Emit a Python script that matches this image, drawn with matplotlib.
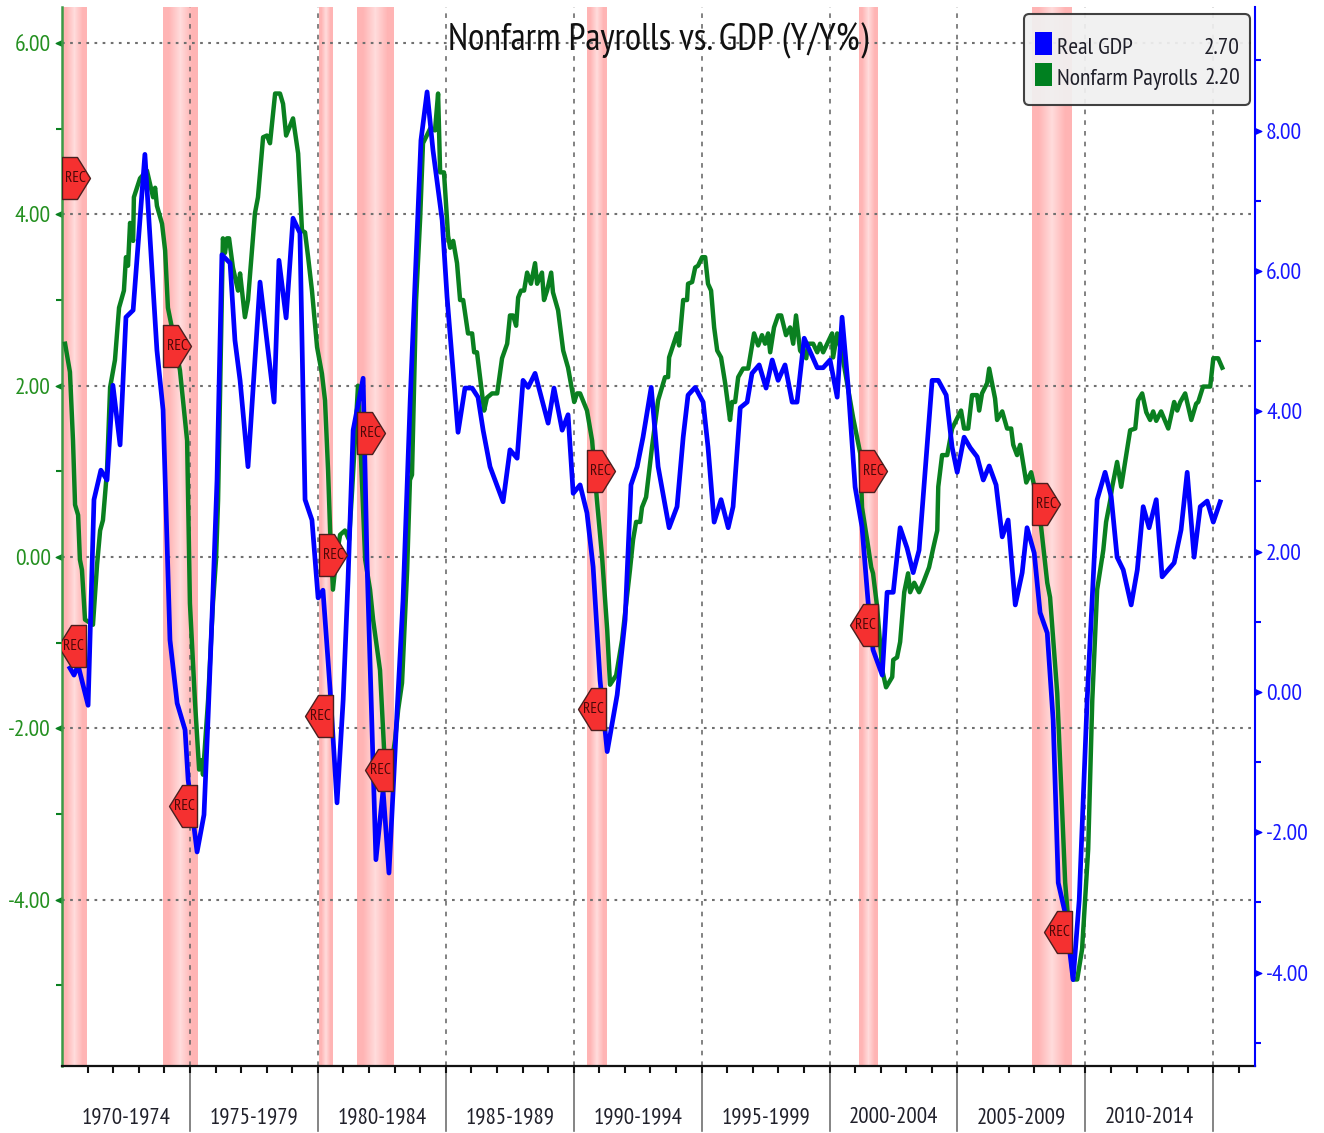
import numpy as np
import matplotlib
matplotlib.use('Agg')
import matplotlib.pyplot as plt
from matplotlib.colors import LinearSegmentedColormap
from matplotlib.patches import FancyBboxPatch, Rectangle
from matplotlib.path import Path
import matplotlib.font_manager as fm

# narrow face if there is one, the chart uses a squeezed sans
have = {f.name for f in fm.fontManager.ttflist}
narrow = [n for n in ['PT Sans Narrow', 'Archivo Narrow', 'Roboto Condensed', 'Liberation Sans Narrow'] if n in have]
plt.rcParams['font.family'] = narrow[:1] + ['Liberation Sans', 'DejaVu Sans']

gdp_t = [1970.31,1970.47,1970.63,1971.02,1971.25,1971.52,1971.76,1971.99,1972.27,1972.50,1972.78,1973.24,1973.71,1973.95,
    1974.22,1974.50,1974.81,1974.93,1975.28,1975.55,1975.71,1975.90,1976.06,1976.25,1976.57,1976.76,1976.96,1977.27,1977.74,
    1978.29,1978.48,1978.76,1979.03,1979.30,1979.50,1979.77,1980.01,1980.20,1980.48,1980.75,1980.99,1981.18,1981.38,1981.77,
    1981.92,1982.27,1982.55,1982.78,1983.10,1983.33,1983.61,1984.03,1984.27,1984.50,1984.86,1985.05,1985.48,1985.75,1986.03,
    1986.26,1986.46,1986.73,1987.24,1987.51,1987.79,1988.02,1988.22,1988.49,1989.00,1989.23,1989.55,1989.78,1989.98,1990.25,
    1990.52,1990.76,1991.03,1991.31,1991.70,1992.01,1992.24,1992.48,1992.71,1993.03,1993.30,1993.73,1994.04,1994.28,1994.47,
    1994.75,1995.06,1995.25,1995.49,1995.76,1996.04,1996.23,1996.51,1996.78,1996.97,1997.25,1997.52,1997.76,1997.99,1998.26,
    1998.54,1998.73,1999.01,1999.52,1999.75,2000.02,2000.30,2000.49,2000.73,2001.00,2001.27,2001.51,2001.70,2002.06,2002.25,
    2002.49,2002.76,2003.03,2003.27,2003.50,2004.01,2004.25,2004.56,2004.79,2004.99,2005.26,2005.50,2005.77,2006.01,2006.24,
    2006.51,2006.75,2006.98,2007.26,2007.53,2007.72,2008.00,2008.23,2008.51,2008.74,2008.94,2009.21,2009.52,2009.76,2010.07,
    2010.46,2010.77,2011.01,2011.24,2011.48,2011.79,2012.03,2012.26,2012.49,2012.77,2013.00,2013.47,2013.74,2013.98,2014.25,
    2014.49,2014.76,2015.00,2015.27]
gdp = [0.34,0.24,0.38,-0.19,2.74,3.16,3.02,4.37,3.52,5.34,5.44,7.66,4.87,4.02,
    0.74,-0.16,-0.54,-1.25,-2.28,-1.75,-0.36,1.41,3.02,6.23,6.11,5.01,4.44,3.21,5.84,
    4.13,6.15,5.33,6.75,6.54,2.74,2.45,1.34,1.45,0.03,-1.58,-0.11,1.60,3.73,4.47,
    1.88,-2.39,-1.40,-2.58,-0.26,1.31,4.16,7.86,8.55,7.72,6.72,5.63,3.70,4.33,4.33,
    4.20,3.73,3.21,2.71,3.45,3.33,4.44,4.34,4.54,3.83,4.33,3.73,3.95,2.83,2.95,
    2.55,1.78,0.17,-0.85,-0.04,1.03,2.95,3.21,3.63,4.34,3.21,2.34,2.64,3.63,4.23,
    4.34,4.13,3.49,2.42,2.74,2.34,2.64,4.05,4.13,4.54,4.66,4.33,4.73,4.44,4.66,
    4.13,4.13,5.04,4.62,4.62,4.73,4.20,5.34,4.34,2.92,2.35,1.27,0.60,0.24,1.42,
    1.42,2.34,2.05,1.70,2.02,4.44,4.44,4.23,3.49,3.13,3.63,3.48,3.35,3.02,3.22,
    2.95,2.21,2.45,1.24,1.70,2.34,1.98,1.13,0.84,-0.40,-2.72,-3.15,-4.10,-2.96,-0.11,
    2.74,3.13,2.78,1.92,1.74,1.24,1.74,2.64,2.34,2.74,1.64,1.84,2.31,3.13,1.92,
    2.64,2.72,2.42,2.71]

pay_t = [1970.12,1970.31,1970.43,1970.51,1970.63,1970.70,1970.78,1970.90,1971.21,1971.37,1971.49,1971.60,1971.76,1971.88,
    1972.07,1972.23,1972.42,1972.50,1972.58,1972.66,1972.78,1972.81,1973.05,1973.32,1973.56,1973.64,1973.71,1973.91,1974.03,
    1974.14,1974.34,1974.61,1974.73,1974.89,1975.00,1975.20,1975.36,1975.47,1975.51,1975.71,1975.90,1976.02,1976.10,1976.29,
    1976.37,1976.45,1976.53,1976.68,1976.88,1976.96,1977.15,1977.27,1977.54,1977.66,1977.86,1978.01,1978.13,1978.33,1978.52,
    1978.64,1978.76,1979.03,1979.23,1979.38,1979.50,1979.62,1979.77,1979.97,1980.16,1980.28,1980.40,1980.48,1980.59,1980.71,
    1980.87,1981.06,1981.22,1981.34,1981.57,1981.85,1982.04,1982.16,1982.43,1982.59,1982.82,1983.02,1983.14,1983.29,1983.49,
    1983.60,1983.68,1983.84,1984.00,1984.11,1984.39,1984.58,1984.70,1984.78,1984.93,1985.09,1985.17,1985.29,1985.44,1985.56,
    1985.68,1985.87,1986.03,1986.11,1986.22,1986.50,1986.61,1986.81,1987.01,1987.20,1987.40,1987.51,1987.63,1987.75,1987.83,
    1987.94,1988.06,1988.18,1988.33,1988.49,1988.57,1988.76,1988.84,1988.96,1989.12,1989.19,1989.39,1989.59,1989.78,1990.02,
    1990.13,1990.25,1990.52,1990.72,1990.91,1991.11,1991.31,1991.42,1991.66,1991.89,1992.20,1992.32,1992.44,1992.60,1992.67,
    1992.83,1993.06,1993.30,1993.57,1993.69,1993.73,1994.04,1994.12,1994.28,1994.43,1994.47,1994.63,1994.75,1994.86,1995.02,
    1995.14,1995.25,1995.37,1995.49,1995.61,1995.76,1995.92,1996.11,1996.19,1996.31,1996.43,1996.62,1996.82,1997.05,1997.21,
    1997.36,1997.48,1997.60,1997.68,1997.83,1997.99,1998.11,1998.30,1998.46,1998.58,1998.69,1998.85,1999.09,1999.16,1999.36,
    1999.52,1999.63,1999.75,1999.91,2000.10,2000.14,2000.30,2000.53,2000.92,2001.20,2001.27,2001.47,2001.63,2001.70,2001.86,
    2002.06,2002.21,2002.45,2002.49,2002.64,2002.76,2002.92,2003.07,2003.15,2003.31,2003.50,2003.66,2003.89,2004.05,2004.21,
    2004.25,2004.40,2004.60,2004.79,2004.99,2005.14,2005.26,2005.42,2005.57,2005.77,2005.85,2005.96,2006.16,2006.24,2006.47,
    2006.55,2006.75,2006.94,2007.10,2007.18,2007.33,2007.45,2007.69,2007.88,2008.04,2008.27,2008.51,2008.62,2008.90,2009.21,
    2009.52,2009.68,2009.87,2010.11,2010.27,2010.46,2010.70,2010.81,2010.97,2011.05,2011.24,2011.40,2011.75,2011.95,2012.06,
    2012.22,2012.38,2012.53,2012.65,2012.77,2012.96,2013.24,2013.47,2013.59,2013.71,2013.90,2014.14,2014.33,2014.41,2014.60,
    2014.88,2015.00,2015.19,2015.35]
payrolls = [2.49,2.16,1.36,0.61,0.49,-0.03,-0.15,-0.73,-0.79,-0.09,0.31,0.43,1.01,1.98,
    2.30,2.91,3.11,3.50,3.40,3.90,3.69,4.20,4.42,4.51,4.20,4.31,4.10,3.89,3.58,
    2.91,2.61,2.18,1.83,1.36,-0.54,-1.70,-2.48,-2.37,-2.54,-1.67,-0.54,-0.03,0.66,3.72,
    3.55,3.72,3.72,3.38,3.11,3.31,2.80,3.00,4.01,4.20,4.90,4.92,4.83,5.41,5.41,
    5.29,4.92,5.12,4.71,3.81,3.79,3.50,3.11,2.45,2.14,1.83,1.01,0.31,-0.38,-0.03,
    0.26,0.31,0.20,0.78,2.00,-0.03,-0.38,-0.73,-1.32,-2.25,-2.54,-2.13,-1.78,-1.47,-0.15,
    0.90,0.96,3.00,3.96,4.83,5.00,4.98,5.41,4.49,4.49,3.75,3.61,3.69,3.43,3.00,
    3.00,2.61,2.61,2.39,2.39,1.71,1.86,1.91,1.91,2.32,2.49,2.82,2.82,2.70,3.03,
    3.11,3.11,3.32,3.19,3.43,3.19,3.32,3.00,3.11,3.32,3.09,2.88,2.41,2.21,1.81,
    1.91,1.91,1.71,1.36,0.66,0.00,-0.85,-1.49,-1.38,-0.97,-0.15,0.20,0.41,0.41,0.58,
    0.70,1.28,1.83,2.10,2.10,2.33,2.61,2.47,3.00,3.00,3.19,3.21,3.38,3.40,3.50,
    3.50,3.19,3.11,2.68,2.41,2.33,2.03,1.60,1.81,1.81,2.10,2.20,2.20,2.61,2.47,
    2.59,2.49,2.61,2.39,2.68,2.82,2.82,2.59,2.68,2.49,2.82,2.41,2.32,2.49,2.49,
    2.39,2.49,2.39,2.49,2.61,2.33,2.61,2.30,1.63,1.21,0.58,0.20,-0.12,-0.19,-0.58,
    -1.32,-1.52,-1.40,-1.20,-1.17,-0.99,-0.41,-0.19,-0.41,-0.30,-0.41,-0.30,-0.12,0.10,0.31,
    0.82,1.19,1.19,1.50,1.62,1.71,1.50,1.50,1.89,1.89,1.71,1.91,2.03,2.20,1.85,
    1.60,1.70,1.50,1.50,1.31,1.19,1.31,0.87,0.99,0.78,0.35,-0.30,-0.47,-1.59,-3.80,
    -4.93,-4.93,-4.58,-3.41,-1.67,-0.38,0.08,0.41,0.66,0.82,1.11,0.82,1.48,1.50,1.83,
    1.91,1.69,1.60,1.70,1.59,1.70,1.50,1.81,1.71,1.81,1.91,1.60,1.79,1.81,1.99,
    1.99,2.32,2.32,2.21]

rec_start = [1970.0,1973.95,1980.05,1981.53,1990.52,2001.16,2007.92]
rec_end = [1970.94,1975.28,1980.59,1982.94,1991.27,2001.90,2009.48]
rec_start_y = [4.42,2.46,0.02,1.45,1.00,1.01,0.62]
rec_end_y = [-1.04,-2.90,-1.86,-2.49,-1.77,-0.79,-4.38]

left_ticks = [-4,-2,0,2,4,6]
left_labels = ['-4.00','-2.00','0.00','2.00','4.00','6.00']
left_minor = [-5,-3,-1,1,3,5]
right_ticks = [-4,-2,0,2,4,6,8]
right_labels = ['-4.00','-2.00','0.00','2.00','4.00','6.00','8.00']
right_minor = [-5,-3,-1,1,3,5,7,9]
period_starts = [1970,1975,1980,1985,1990,1995,2000,2005,2010]
period_labels = ['1970-1974','1975-1979','1980-1984','1985-1989','1990-1994','1995-1999','2000-2004','2005-2009','2010-2014']
legend_names = ['Real GDP','Nonfarm Payrolls']
legend_values = ['2.70','2.20']

GREEN = '#0a8020'
BLUE = '#0000ff'
W, H = 1324, 1133

fig = plt.figure(figsize=(W/100, H/100), dpi=100, facecolor='white')
ax = fig.add_axes([62/W, 1-1066/H, (1255-62)/W, (1066-7)/H])
ax2 = ax.twinx()
ax.set_zorder(1)
ax2.set_zorder(2)
ax2.patch.set_visible(False)

# recession bands, darker at the edges
cmap = LinearSegmentedColormap.from_list('rec', ['#ffb4b4', '#ffdcdc'])
for a, b in zip(rec_start, rec_end):
    ax.imshow([[0, 1, 0]], extent=(a, b, -6, 7), aspect='auto', cmap=cmap, vmin=0, vmax=1,
              interpolation='bilinear', zorder=0)

ax.plot(pay_t, payrolls, color=GREEN, lw=3.2, zorder=3, solid_joinstyle='round')
ax2.plot(gdp_t, gdp, color=BLUE, lw=3.4, zorder=3, solid_joinstyle='round')

ax.set_xlim(1970, 2016.63)
ax.set_ylim(-5.94, 6.42)
ax2.set_ylim(-5.33, 9.76)

# grid
for v in left_ticks:
    ax.axhline(v, color='#707070', lw=1.5, ls=(0, (1.3, 2.6)), zorder=1)
years = period_starts + [2015]
for v in years[1:]:
    ax.axvline(v, color='#606060', lw=1.1, ls=(0, (3, 4)), zorder=1)
    ax.plot([v, v], [-0.0614, 0], transform=ax.get_xaxis_transform(), clip_on=False,
            color='#707070', lw=1.2, zorder=1)

# x axis
ax.set_xticks(np.arange(1971, 2017))
ax.tick_params(axis='x', length=5, width=1.5, color='#111111', labelbottom=False)
for s, lab in zip(period_starts, period_labels):
    ax.text(s+2.5, -0.0488, lab, transform=ax.get_xaxis_transform(), ha='center', va='center',
            fontsize=16.5, color='#20202a')

# y axes
ax.set_yticks(left_ticks, left_labels)
ax.set_yticks(left_minor, minor=True)
ax.tick_params(axis='y', which='major', length=8, width=1, colors='#249020', labelsize=17, pad=0)
ax.tick_params(axis='y', which='minor', length=4, width=1.5, color=GREEN)
ax2.set_yticks(right_ticks, right_labels)
ax2.set_yticks(right_minor, minor=True)
ax2.tick_params(axis='y', which='major', length=8, width=1, colors='#1818ff', labelsize=17, pad=0)
ax2.tick_params(axis='y', which='minor', length=4, width=1.5, color=BLUE)
ax2.tick_params(axis='x', which='both', length=0)

left_tri = Path([(0, -4), (-9, 0), (0, 4), (0, -4)], closed=True)
right_tri = Path([(0, -4), (9, 0), (0, 4), (0, -4)], closed=True)
for t in ax.yaxis.get_major_ticks():
    t.tick1line.set_marker(left_tri)
    t.tick1line.set_markersize(9)
    t.tick1line.set_markerfacecolor(GREEN)
    t.tick1line.set_markeredgecolor(GREEN)
for t in ax2.yaxis.get_major_ticks():
    t.tick2line.set_marker(right_tri)
    t.tick2line.set_markersize(9)
    t.tick2line.set_markerfacecolor(BLUE)
    t.tick2line.set_markeredgecolor(BLUE)

for a_ in (ax, ax2):
    for side in a_.spines:
        a_.spines[side].set_visible(False)
ax.spines['bottom'].set_visible(True)
ax.spines['bottom'].set_linewidth(1.6)
ax.spines['bottom'].set_color('#111111')
ax.spines['left'].set_visible(True)
ax.spines['left'].set_linewidth(1.8)
ax.spines['left'].set_color('#3c9a46')
ax2.spines['right'].set_visible(True)
ax2.spines['right'].set_linewidth(1.5)
ax2.spines['right'].set_color(BLUE)

# REC flags
rec_r = [(0, -21), (15, -21), (28, 0), (15, 21), (0, 21), (0, -21)]
rec_l = [(0, -21), (-15, -21), (-28, 0), (-15, 21), (0, 21), (0, -21)]
for xs, ys, verts, off in ((rec_start, rec_start_y, rec_r, 10), (rec_end, rec_end_y, rec_l, -9)):
    ax2.plot(xs, ys, ls='none', marker=verts, ms=40.3, mfc='#f53030', mec='#4a2020', mew=1,
             transform=ax.transData, clip_on=True, zorder=5)
    for x, y in zip(xs, ys):
        ax2.annotate('REC', (x, y), xycoords=ax.transData, xytext=(off, 0), textcoords='offset points',
                     ha='center', va='center', fontsize=11, color='#4a0808', zorder=6)

fig.text(658/W, 1-41/H, 'Nonfarm Payrolls vs. GDP (Y/Y%)', ha='center', va='center',
         fontsize=27, color='#111111', zorder=10)

# legend box
box = FancyBboxPatch((1024/W, 1-105/H), 226/W, 91/H, boxstyle='round,pad=0,rounding_size=0.004',
                     transform=fig.transFigure, fc='#f0f0f0', ec='#333333', lw=1.5, alpha=0.93, zorder=8,
                     mutation_aspect=W/H)
fig.add_artist(box)
for i, (name, val, col) in enumerate(zip(legend_names, legend_values, [BLUE, '#008020'])):
    y0 = 32 + i*31
    fig.add_artist(Rectangle((1035/W, 1-(y0+23)/H), 17/W, 23/H, transform=fig.transFigure, fc=col, ec='none', zorder=9))
    fig.text(1057/W, 1-(y0+16)/H, name, ha='left', va='center', fontsize=17, color='#20202a', zorder=10)
    fig.text(1240/W, 1-(y0+16)/H, val, ha='right', va='center', fontsize=17, color='#20202a', zorder=10)

fig.savefig('out.png', dpi=100)
